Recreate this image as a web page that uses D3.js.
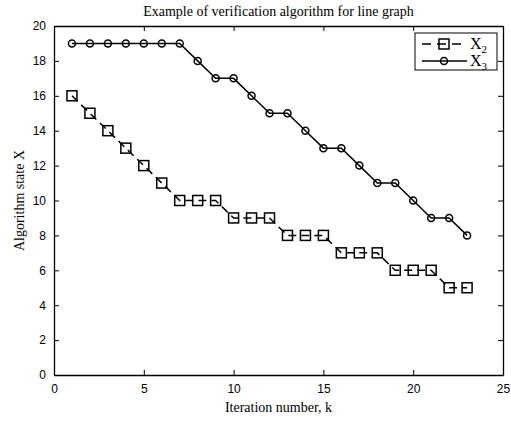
<!DOCTYPE html>
<html>
<head>
<meta charset="utf-8">
<script src="https://cdn.jsdelivr.net/npm/d3@7"></script>
<style>
  body { margin: 0; background: #fff; }
  .tick text { font-family: "Liberation Sans", Arial, sans-serif; font-size: 12px; fill: #000; }
  .lbl { font-family: "Liberation Serif", "Times New Roman", serif; font-size: 14px; fill: #000; }
</style>
</head>
<body>
<svg id="chart" width="511" height="424"></svg>
<script>
// iteration k
const iterations = [1,2,3,4,5,6,7,8,9,10,11,12,13,14,15,16,17,18,19,20,21,22,23];
// state X2 (dashed, squares)
const x2Values = [16,15,14,13,12,11,10,10,10,9,9,9,8,8,8,7,7,7,6,6,6,5,5];
// state X3 (solid, circles)
const x3Values = [19,19,19,19,19,19,19,18,17,17,16,15,15,14,13,13,12,11,11,10,9,9,8];
const xTicks = [0,5,10,15,20,25];
const yTicks = [0,2,4,6,8,10,12,14,16,18,20];

const svg = d3.select('#chart');
const margin = { top: 26, right: 8, bottom: 49, left: 54 };
const W = 511, H = 424;
const innerW = W - margin.left - margin.right;
const innerH = H - margin.top - margin.bottom;

const x = d3.scaleLinear().domain([0, 25]).range([0, innerW]);
const y = d3.scaleLinear().domain([0, 20]).range([innerH, 0]);

const g = svg.append('g').attr('transform', `translate(${margin.left},${margin.top})`);

// axes with inward ticks (matlab style box)
g.append('g').attr('transform', `translate(0,${innerH})`)
  .call(d3.axisBottom(x).tickValues(xTicks).tickSize(-5).tickPadding(9).tickSizeOuter(0));
g.append('g')
  .call(d3.axisLeft(y).tickValues(yTicks).tickSize(-5).tickPadding(8).tickSizeOuter(0));
g.append('g').call(d3.axisTop(x).tickValues(xTicks).tickSize(-5).tickFormat('').tickSizeOuter(0));
g.append('g').attr('transform', `translate(${innerW},0)`)
  .call(d3.axisRight(y).tickValues(yTicks).tickSize(-5).tickFormat('').tickSizeOuter(0));
g.selectAll('.domain').attr('stroke', '#000').attr('stroke-width', 1.3);
g.selectAll('.tick line').attr('stroke', '#000');

const line = d3.line().x((d, i) => x(iterations[i])).y(d => y(d));

g.append('path').datum(x3Values)
  .attr('d', line).attr('fill', 'none').attr('stroke', '#000').attr('stroke-width', 1.5);
g.append('path').datum(x2Values)
  .attr('d', line).attr('fill', 'none').attr('stroke', '#000').attr('stroke-width', 1.5)
  .attr('stroke-dasharray', '8,5');

g.selectAll('.c3').data(x3Values).enter().append('circle')
  .attr('cx', (d, i) => x(iterations[i])).attr('cy', d => y(d)).attr('r', 3.5)
  .attr('fill', 'none').attr('stroke', '#000').attr('stroke-width', 1.5);
g.selectAll('.s2').data(x2Values).enter().append('rect')
  .attr('x', (d, i) => x(iterations[i]) - 5).attr('y', d => y(d) - 5)
  .attr('width', 10).attr('height', 10)
  .attr('fill', 'none').attr('stroke', '#000').attr('stroke-width', 1.5);

// title and axis labels
svg.append('text').attr('class', 'lbl').attr('x', margin.left + innerW / 2).attr('y', 16)
  .attr('text-anchor', 'middle').text('Example of verification algorithm for line graph');
svg.append('text').attr('class', 'lbl').attr('x', margin.left + innerW / 2).attr('y', 412)
  .attr('text-anchor', 'middle').text('Iteration number, k');
svg.append('text').attr('class', 'lbl')
  .attr('transform', `translate(24,${margin.top + innerH / 2}) rotate(-90)`)
  .attr('text-anchor', 'middle').text('Algorithm state X');

// legend
const lg = svg.append('g').attr('transform', 'translate(415,33)');
lg.append('rect').attr('width', 82).attr('height', 37).attr('fill', '#fff')
  .attr('stroke', '#000').attr('stroke-width', 1);
const items = [
  { name: '2', dash: '9,6', marker: 'square' },
  { name: '3', dash: null, marker: 'circle' }
];
items.forEach((it, i) => {
  const yy = 11 + i * 17;
  lg.append('line').attr('x1', 7).attr('x2', 52).attr('y1', yy).attr('y2', yy)
    .attr('stroke', '#000').attr('stroke-width', 1.5)
    .attr('stroke-dasharray', it.dash);
  if (it.marker === 'square')
    lg.append('rect').attr('x', 24).attr('y', yy - 5).attr('width', 10).attr('height', 10)
      .attr('fill', 'none').attr('stroke', '#000').attr('stroke-width', 1.5);
  else
    lg.append('circle').attr('cx', 29).attr('cy', yy).attr('r', 3.5)
      .attr('fill', 'none').attr('stroke', '#000').attr('stroke-width', 1.5);
  const t = lg.append('text').attr('class', 'lbl').attr('x', 55).attr('y', yy + 5)
    .style('font-size', '16px');
  t.append('tspan').text('X');
  t.append('tspan').style('font-size', '11px').attr('dy', 4).text(it.name);
});
</script>
</body>
</html>
